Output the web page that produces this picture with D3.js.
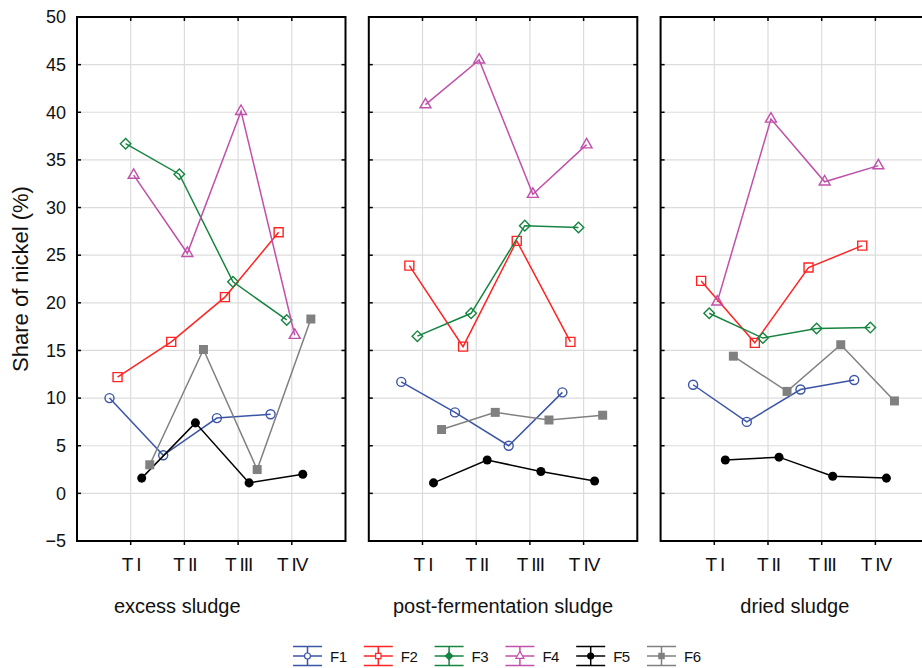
<!DOCTYPE html>
<html>
<head>
<meta charset="utf-8">
<script src="https://cdn.jsdelivr.net/npm/d3@7"></script>
<style>
  body { margin: 0; background: #fff; }
  svg { display: block; font-family: "Liberation Sans", Arial, sans-serif; }
</style>
</head>
<body>
<div id="chart"></div>
<script>
// DATA
const panels = ["excess sludge", "post-fermentation sludge", "dried sludge"];
const times = ["T I", "T II", "T III", "T IV"];
const seriesNames = ["F1", "F2", "F3", "F4", "F5", "F6"];
const yTicks = [-5, 0, 5, 10, 15, 20, 25, 30, 35, 40, 45, 50];

// one array per fraction, one row per panel (T I .. T IV)
const F1 = [[10.0, 4.0, 7.9, 8.3], [11.7, 8.5, 5.0, 10.6], [11.4, 7.5, 10.9, 11.9]];
const F2 = [[12.2, 15.9, 20.6, 27.4], [23.9, 15.4, 26.5, 15.9], [22.3, 15.8, 23.7, 26.0]];
const F3 = [[36.7, 33.5, 22.2, 18.2], [16.5, 18.9, 28.1, 27.9], [18.9, 16.3, 17.3, 17.4]];
const F4 = [[33.4, 25.2, 40.1, 16.6], [40.8, 45.5, 31.4, 36.6], [20.1, 39.3, 32.7, 34.4]];
const F5 = [[1.6, 7.4, 1.1, 2.0], [1.1, 3.5, 2.3, 1.3], [3.5, 3.8, 1.8, 1.6]];
const F6 = [[3.0, 15.1, 2.5, 18.3], [6.7, 8.5, 7.7, 8.2], [14.4, 10.7, 15.6, 9.7]];

const seriesData = [F1, F2, F3, F4, F5, F6];

// STYLE
const colors = ["#3b55a6", "#ff2424", "#168540", "#c050aa", "#000000", "#808080"];
const shapes = ["circle", "square", "diamond", "triangle", "dot", "fsquare"];

const width = 922, height = 668;
const plotTop = 17, plotBottom = 541;
const panelW = 268.5, firstLeft = 77, gap = 23.3;

const svg = d3.select("#chart").append("svg")
  .attr("width", width)
  .attr("height", height);

const y = d3.scaleLinear().domain([-5, 50]).range([plotBottom, plotTop]);

// category positions inside a panel, and small offsets per series
const x = d3.scalePoint().domain(times).range([0, panelW]).padding(1);
const step = x.step();
const off = d3.scalePoint().domain(seriesNames).range([-0.395, 0.355]);

function symbolPath(shape) {
  if (shape === "circle" || shape === "dot") return d3.symbol(d3.symbolCircle, 64)();
  if (shape === "square" || shape === "fsquare") return d3.symbol(d3.symbolSquare, 81)();
  if (shape === "diamond") return d3.symbol(d3.symbolSquare, 56)();
  if (shape === "triangle") return d3.symbol(d3.symbolTriangle, 52)();
}

panels.forEach((pName, p) => {
  const left = firstLeft + p * (panelW + gap);
  const g = svg.append("g").attr("transform", `translate(${left},0)`);

  // grid
  g.append("g").selectAll("line")
    .data(yTicks.slice(1, -1))
    .join("line")
      .attr("x1", 0).attr("x2", panelW)
      .attr("y1", d => y(d)).attr("y2", d => y(d))
      .attr("stroke", "#dcdcdc").attr("stroke-width", 1.2);
  g.append("g").selectAll("line")
    .data(times)
    .join("line")
      .attr("x1", d => x(d)).attr("x2", d => x(d))
      .attr("y1", plotTop).attr("y2", plotBottom)
      .attr("stroke", "#dcdcdc").attr("stroke-width", 1.2);

  // small ticks
  const tk = g.append("g").attr("stroke", "#000").attr("stroke-width", 1.5);
  yTicks.forEach(t => {
    tk.append("line").attr("x1", 0).attr("x2", 4).attr("y1", y(t)).attr("y2", y(t));
    tk.append("line").attr("x1", panelW - 4).attr("x2", panelW).attr("y1", y(t)).attr("y2", y(t));
  });
  times.forEach(t => {
    tk.append("line").attr("x1", x(t)).attr("x2", x(t)).attr("y1", plotTop).attr("y2", plotTop + 4);
    tk.append("line").attr("x1", x(t)).attr("x2", x(t)).attr("y1", plotBottom).attr("y2", plotBottom + 4);
  });

  // frame
  g.append("rect")
    .attr("x", 0).attr("y", plotTop)
    .attr("width", panelW).attr("height", plotBottom - plotTop)
    .attr("fill", "none").attr("stroke", "#000").attr("stroke-width", 2);

  // x tick labels
  const xAxis = g.append("g")
    .attr("transform", `translate(0,${plotBottom})`)
    .call(d3.axisBottom(x).tickSize(0).tickPadding(17));
  xAxis.select(".domain").remove();
  xAxis.selectAll("text")
    .attr("font-size", 19).attr("letter-spacing", "-1px")
    .attr("fill", "#111").attr("font-family", "Liberation Sans, Arial, sans-serif");

  // panel label
  g.append("text")
    .attr("x", panelW / 2 + (p === 0 ? -34 : 0))
    .attr("y", 613)
    .attr("text-anchor", "middle")
    .attr("font-size", 20)
    .attr("fill", "#111")
    .text(pName);

  // series
  seriesData.forEach((s, i) => {
    const pts = s[p].map((v, k) => ({ x: x(times[k]) + off(seriesNames[i]) * step, y: y(v) }));
    g.append("path")
      .datum(pts)
      .attr("fill", "none")
      .attr("stroke", colors[i])
      .attr("stroke-width", 1.5)
      .attr("d", d3.line().x(d => d.x).y(d => d.y));

    const filled = shapes[i] === "dot" || shapes[i] === "fsquare";
    g.append("g").selectAll("path")
      .data(pts)
      .join("path")
        .attr("d", symbolPath(shapes[i]))
        .attr("transform", d => `translate(${d.x},${d.y})` + (shapes[i] === "diamond" ? " rotate(45)" : ""))
        .attr("fill", filled ? colors[i] : "none")
        .attr("stroke", colors[i])
        .attr("stroke-width", filled ? 0 : 1.4);
  });
});

// y axis labels (first panel only)
const yAxis = svg.append("g")
  .attr("transform", `translate(${firstLeft},0)`)
  .call(d3.axisLeft(y).tickValues(yTicks).tickSize(0).tickPadding(11));
yAxis.select(".domain").remove();
yAxis.selectAll("text")
  .attr("font-size", 18).attr("fill", "#111")
  .attr("font-family", "Liberation Sans, Arial, sans-serif");

svg.append("text")
  .attr("transform", `translate(28,${(plotTop + plotBottom) / 2}) rotate(-90)`)
  .attr("text-anchor", "middle")
  .attr("font-size", 22)
  .attr("fill", "#111")
  .text("Share of nickel (%)");

// LEGEND
const lx = d3.scalePoint().domain(seriesNames).range([293, 647]);
const legend = svg.append("g").selectAll("g")
  .data(seriesNames)
  .join("g")
    .attr("transform", d => `translate(${lx(d)},656)`);

legend.each(function(d, i) {
  const item = d3.select(this);
  [-9.5, 0, 9.5].forEach(dy => {
    item.append("line").attr("x1", 0).attr("x2", 29).attr("y1", dy).attr("y2", dy)
      .attr("stroke", colors[i]).attr("stroke-width", 1.5);
  });
  item.append("line").attr("x1", 14.5).attr("x2", 14.5).attr("y1", -9.5).attr("y2", 9.5)
    .attr("stroke", colors[i]).attr("stroke-width", 1.5);
  const filled = shapes[i] === "dot" || shapes[i] === "fsquare";
  item.append("path")
    .attr("d", d3.symbol(shapes[i] === "triangle" ? d3.symbolTriangle :
      (shapes[i] === "square" || shapes[i] === "fsquare" || shapes[i] === "diamond") ? d3.symbolSquare : d3.symbolCircle, 28)())
    .attr("transform", `translate(14.5,0)` + (shapes[i] === "diamond" ? " rotate(45)" : ""))
    .attr("fill", filled || shapes[i] === "diamond" ? colors[i] : "#fff")
    .attr("stroke", colors[i]).attr("stroke-width", 1.2);
  item.append("text")
    .attr("x", 37).attr("y", 5.5)
    .attr("font-size", 15).attr("letter-spacing", "-0.5px")
    .attr("fill", "#111")
    .text(d);
});
</script>
</body>
</html>
